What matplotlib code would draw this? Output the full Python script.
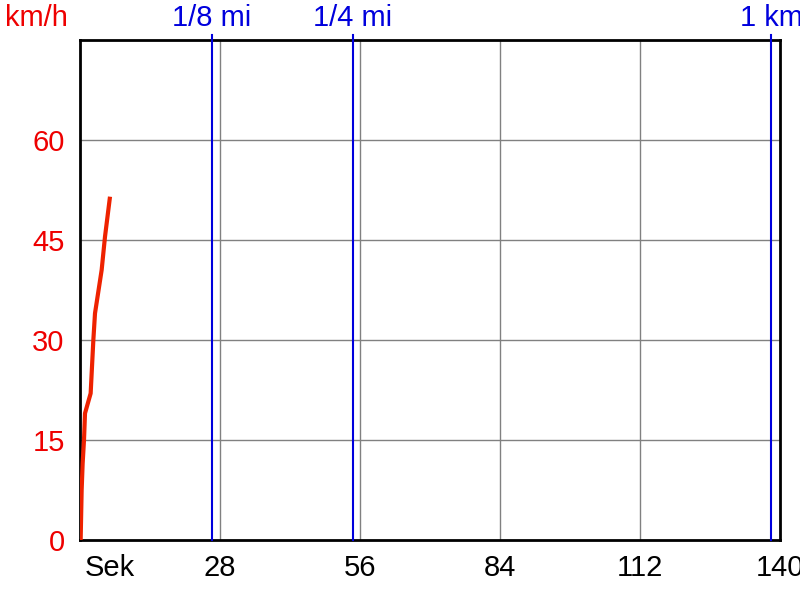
import matplotlib
matplotlib.use("Agg")
import matplotlib.pyplot as plt
import matplotlib.transforms as mtransforms

# speed curve (seconds, km/h)
t = [0.13, 0.33, 0.53, 0.8, 1.0, 2.13, 2.67, 3.0, 4.33, 5.0, 6.0]
v = [0, 7.5, 11.5, 15, 19, 22, 30, 34, 40.5, 45.5, 51.5]

# distance markers
marker_t = [26.4, 54.6, 138.2]
marker_labels = ["1/8 mi", "1/4 mi", "1 km"]

xticks = [0, 28, 56, 84, 112, 140]
xlabels = ["Sek", "28", "56", "84", "112", "140"]
yticks = [0, 15, 30, 45, 60]

plt.rcParams['font.family'] = ['Liberation Sans', 'DejaVu Sans']

fig = plt.figure(figsize=(8, 6), dpi=100)
ax = fig.add_axes([0.1, 0.1, 0.875, 0.8333])
ax.set_xlim(0, 140)
ax.set_ylim(0, 75)

ax.grid(True, color="#808080", lw=1)
ax.set_axisbelow(True)

for x, lab in zip(marker_t, marker_labels):
    ax.axvline(x, ymin=0, ymax=1.01, color="#0000dd", lw=1.5, clip_on=False, zorder=3)
    ax.text(x, 1.045, lab, transform=ax.get_xaxis_transform(), color="#0000dd",
            fontsize=21, ha="center", va="center")

ax.plot(t, v, color="#ee2200", lw=3, zorder=4, solid_capstyle="butt")

ax.set_xticks(xticks)
ax.set_xticklabels(xlabels)
ax.set_yticks(yticks)
ax.tick_params(axis="x", length=0, pad=10, labelsize=21, colors="black")
ax.tick_params(axis="y", length=0, pad=11, labelsize=21, labelcolor="#ee0000")
# gridlines only at inner ticks
for gl in ax.get_xgridlines()[:1] + ax.get_xgridlines()[-1:]:
    gl.set_visible(False)
ax.get_ygridlines()[0].set_visible(False)

lbl = ax.get_xticklabels()[0]
lbl.set_ha("left")
lbl.set_transform(lbl.get_transform() + mtransforms.ScaledTranslation(5 / 100, 0, fig.dpi_scale_trans))

for s in ax.spines.values():
    s.set_color("black")
    s.set_linewidth(2)

fig.text(0.006, 0.97, "km/h", color="#ee0000", fontsize=21, ha="left", va="center")

fig.savefig("out.png", dpi=100)
